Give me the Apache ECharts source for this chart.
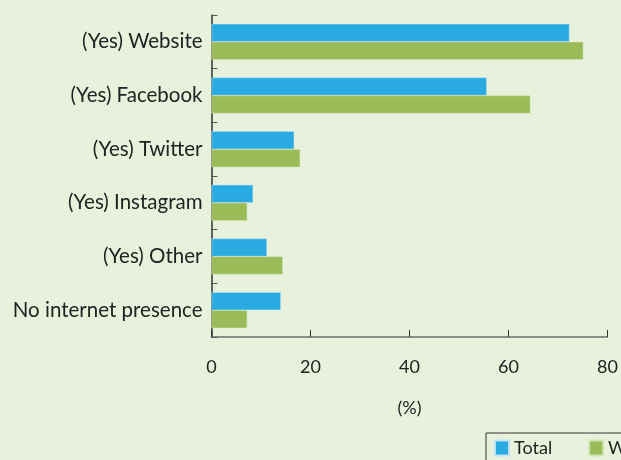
<!DOCTYPE html>
<html><head><meta charset="utf-8">
<script src="https://cdn.jsdelivr.net/npm/echarts@6/dist/echarts.min.js"></script>
<style>html,body{margin:0;padding:0;background:#e8f1dc;}#c{width:621px;height:460px;}</style>
</head><body><div id="c"></div>
<script>
const categories = ["(Yes) Website","(Yes) Facebook","(Yes) Twitter","(Yes) Instagram","(Yes) Other","No internet presence"];
const totalValues = [72.3, 55.6, 16.7, 8.4, 11.2, 14.0];
const womenValues = [75.1, 64.4, 17.9, 7.2, 14.4, 7.2];
const seriesNames = ["Total","Women"];
const xTicks = [0, 20, 40, 60, 80];

const font = "Lato, 'Open Sans', sans-serif";
const chart = echarts.init(document.getElementById('c'));
chart.setOption({
  backgroundColor: '#e8f1dc',
  animation: false,
  grid: {left: 211.5, right: 7, top: 15, bottom: 123, containLabel: false},
  xAxis: {
    type: 'value', min: xTicks[0], max: xTicks[xTicks.length-1], interval: 20,
    name: '(%)', nameLocation: 'middle', nameGap: 62,
    nameTextStyle: {fontFamily: font, fontSize: 18, color: '#222'},
    axisLine: {show: true, lineStyle: {color: '#6d6d6d', width: 1.5}},
    axisTick: {show: true, inside: true, length: 7, lineStyle: {color: '#333'}},
    axisLabel: {fontFamily: font, fontSize: 18, color: '#222', margin: 21},
    splitLine: {show: false}
  },
  yAxis: {
    type: 'category', data: categories, inverse: true,
    axisLine: {show: true, lineStyle: {color: '#333', width: 1.5}},
    axisTick: {show: true, inside: true, length: 6, lineStyle: {color: '#555'}},
    axisLabel: {fontFamily: font, fontSize: 20.5, color: '#222', margin: 9}
  },
  legend: {
    left: 486, top: 433, width: 500, orient: 'horizontal',
    data: seriesNames, icon: 'rect', itemWidth: 14, itemHeight: 15, itemGap: 36,
    borderColor: '#333', borderWidth: 1, padding: [6, 8, 10, 8],
    textStyle: {fontFamily: font, fontSize: 18, color: '#222'}
  },
  series: [
    {name: seriesNames[0], type: 'bar', data: totalValues, barWidth: 18, barGap: '0%',
     itemStyle: {color: '#29abe2', borderColor: '#bfe3f3', borderWidth: 0.5}},
    {name: seriesNames[1], type: 'bar', data: womenValues, barWidth: 18, barGap: '0%',
     itemStyle: {color: '#9bbb59', borderColor: '#d3e3b6', borderWidth: 0.5}}
  ]
});
</script></body></html>
